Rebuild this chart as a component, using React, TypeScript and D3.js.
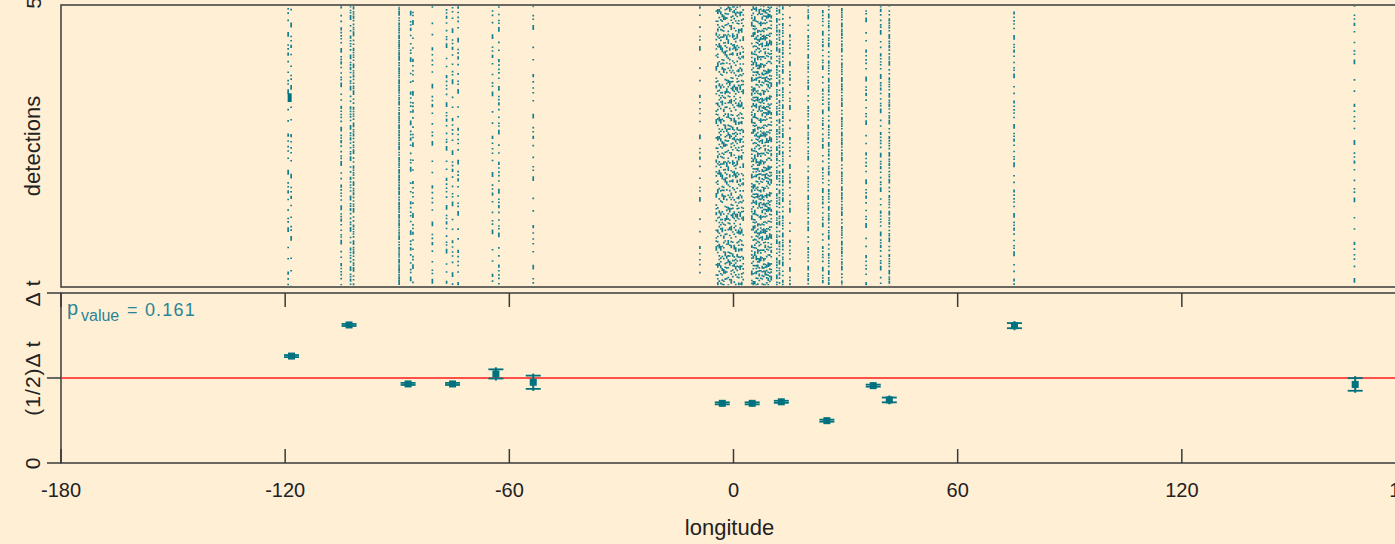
import React, { useEffect, useRef } from 'react';
import * as d3 from 'd3';

// x axis
const xTicks = [-180, -120, -60, 0, 60, 120, 180];
const xLabel = 'longitude';

// bottom panel y axis
const yTickValues = [0, 0.5, 1];
const yTickLabels = ['0', '(1/2)Δ\u2009t', 'Δ\u2009t'];
const pValue = '0.161';

// estimated half-period points (fraction of Δt) with error half-widths
const pointLon = [-118.3, -102.9, -87.1, -75.2, -63.6, -53.6, -3.0, 5.0, 12.8, 25.0, 37.4, 41.7, 75.2, 166.4];
const pointVal = [0.629, 0.812, 0.465, 0.465, 0.524, 0.475, 0.351, 0.351, 0.36, 0.249, 0.455, 0.371, 0.808, 0.462];
const pointErr = [0.006, 0.006, 0.006, 0.006, 0.027, 0.039, 0.006, 0.006, 0.006, 0.006, 0.006, 0.014, 0.015, 0.037];

// top panel: detection columns (longitude, share of the column filled)
const detLon = [-119.2, -118.4, -105.0, -102.5, -101.7, -89.5, -86.4, -85.8, -80.6, -76.8, -75.2, -73.7, -64.5, -62.8, -53.6,
  -9.0, 11.6, 12.3, 13.2, 15.1, 20.0, 23.9, 25.5, 29.0, 35.5, 39.4, 41.7, 75.1, 166.2];
const detDensity = [0.22, 0.2, 0.4, 0.45, 0.55, 0.75, 0.28, 0.25, 0.22, 0.3, 0.25, 0.25, 0.22, 0.3, 0.2,
  0.2, 0.5, 0.45, 0.5, 0.3, 0.45, 0.4, 0.5, 0.6, 0.3, 0.4, 0.55, 0.35, 0.22];
const denseLonA = [-4.6, -4.2, -3.8, -3.4, -3.0, -2.6, -2.2, -1.8, -1.4, -1.0, -0.6, -0.2, 0.2, 0.6, 1.0, 1.4, 1.8, 2.2, 2.6];
const denseLonB = [4.9, 5.3, 5.7, 6.1, 6.5, 6.9, 7.3, 7.7, 8.1, 8.5, 8.9, 9.3, 9.7, 10.1];
const denseA = 0.24;
const denseB = 0.32;
const detExtent = [0.3, 48.4];
const blockLon = -118.8;
const blockRange = [31.9, 33.4];

const bg = '#FFEFD5';
const teal = '#00717f';
const dotTeal = '#137f8e';
const frame = '#3a3a3a';
const font = "'Liberation Sans', Arimo, Arial, sans-serif";

// irregular gap rhythm so neighbouring columns don't line up
const gapRhythm = [0.7, 1.9, 0.5, 1.2, 2.6, 0.6, 1.0, 0.4, 1.6, 0.8, 2.1, 0.5, 1.3, 0.9, 0.3, 1.7];
const dashRhythm = [1.6, 1.6, 3.2, 1.6, 1.6, 4.8, 1.6, 1.6];

const Chart = () => {
  const svgRef = useRef<SVGSVGElement>(null);

  useEffect(() => {
    const svg = d3.select(svgRef.current);
    const width = 1395;
    const height = 544;
    svg.selectAll('*').remove();

    const left = 61, right = 1406;
    const top0 = 5, top1 = 287, bot0 = 293, bot1 = 463;

    const x = d3.scaleLinear().domain([-180, 180]).range([left, right]);
    const yTop = d3.scaleLinear().domain([0, 50]).range([top1, -3]);
    const yBot = d3.scaleLinear().domain([0, 1]).range([bot1, bot0]);

    svg.append('rect').attr('width', width).attr('height', height).attr('fill', bg);

    svg.append('clipPath').attr('id', 'topclip')
      .append('rect').attr('x', left).attr('y', top0).attr('width', right - left).attr('height', top1 - top0);

    // detection columns
    const columns = [
      ...detLon.map((lon, i) => ({ lon, d: detDensity[i] })),
      ...denseLonA.map(lon => ({ lon, d: denseA })),
      ...denseLonB.map(lon => ({ lon, d: denseB })),
    ];
    const dash = (d: number, i: number) => {
      const g = Math.max(0.4, 1.6 / d - 1.6);
      const parts: number[] = [];
      const n = gapRhythm.length;
      for (let k = 0; k < n; k++) {
        parts.push(dashRhythm[(k + i * 3) % dashRhythm.length]);
        parts.push(g * gapRhythm[(k * 5 + i * 7) % n]);
      }
      return parts.map(v => v.toFixed(2)).join(' ');
    };
    const gTop = svg.append('g').attr('clip-path', 'url(#topclip)');
    gTop.selectAll('line.det')
      .data(columns)
      .enter()
      .append('line')
      .attr('class', 'det')
      .attr('x1', c => x(c.lon))
      .attr('x2', c => x(c.lon))
      .attr('y1', yTop(detExtent[0]))
      .attr('y2', yTop(detExtent[1]))
      .attr('stroke', dotTeal)
      .attr('stroke-width', 1.7)
      .attr('stroke-dasharray', (c, i) => dash(c.d, i))
      .attr('stroke-dashoffset', (c, i) => (i * i * 17.3 + i * 41) % 120);

    gTop.append('rect')
      .attr('x', x(blockLon) - 2)
      .attr('y', yTop(blockRange[1]))
      .attr('width', 4)
      .attr('height', yTop(blockRange[0]) - yTop(blockRange[1]))
      .attr('fill', teal);

    // frames
    svg.append('rect')
      .attr('x', left).attr('y', top0).attr('width', right - left).attr('height', top1 - top0)
      .attr('fill', 'none').attr('stroke', frame).attr('stroke-width', 1.5);
    svg.append('rect')
      .attr('x', left).attr('y', bot0).attr('width', right - left).attr('height', bot1 - bot0)
      .attr('fill', 'none').attr('stroke', frame).attr('stroke-width', 1.5);

    // top panel y axis
    svg.append('line').attr('x1', left - 14).attr('x2', left).attr('y1', yTop(50)).attr('y2', yTop(50))
      .attr('stroke', frame).attr('stroke-width', 1.5);
    svg.append('text')
      .attr('transform', `translate(41,${yTop(50)}) rotate(-90)`)
      .attr('text-anchor', 'middle')
      .attr('font-family', font).attr('font-size', 21).attr('fill', '#222')
      .text('50');
    svg.append('text')
      .attr('transform', `translate(40,${(top0 + top1) / 2}) rotate(-90)`)
      .attr('text-anchor', 'middle')
      .attr('font-family', font).attr('font-size', 22).attr('fill', '#222')
      .text('detections');

    // bottom panel x ticks (inside, bottom and top)
    xTicks.forEach(t => {
      svg.append('line').attr('x1', x(t)).attr('x2', x(t)).attr('y1', bot1).attr('y2', bot1 - 14)
        .attr('stroke', frame).attr('stroke-width', 1.5);
      svg.append('line').attr('x1', x(t)).attr('x2', x(t)).attr('y1', bot0).attr('y2', bot0 + 14)
        .attr('stroke', frame).attr('stroke-width', 1.5);
      svg.append('text')
        .attr('x', x(t)).attr('y', 497)
        .attr('text-anchor', 'middle')
        .attr('font-family', font).attr('font-size', 20).attr('fill', '#222')
        .text(String(t));
    });
    svg.append('text')
      .attr('x', x(0) - 4).attr('y', 535)
      .attr('text-anchor', 'middle')
      .attr('font-family', font).attr('font-size', 22).attr('fill', '#222')
      .text(xLabel);

    // bottom panel y axis
    yTickValues.forEach((v, i) => {
      svg.append('line').attr('x1', left - 14).attr('x2', left).attr('y1', yBot(v)).attr('y2', yBot(v))
        .attr('stroke', frame).attr('stroke-width', 1.5);
      svg.append('text')
        .attr('transform', `translate(40,${yBot(v)}) rotate(-90)`)
        .attr('text-anchor', 'middle')
        .attr('font-family', font).attr('font-size', 21).attr('fill', '#222')
        .attr('letter-spacing', 1)
        .text(yTickLabels[i]);
    });

    // reference line at half period
    svg.append('line')
      .attr('x1', left).attr('x2', right).attr('y1', yBot(0.5)).attr('y2', yBot(0.5))
      .attr('stroke', '#ff1a1a').attr('stroke-width', 1.6);

    // p value
    const pt = svg.append('g').attr('font-family', font).attr('fill', '#2a8497');
    pt.append('text').attr('x', 67).attr('y', 315).attr('font-size', 20).text('p');
    pt.append('text').attr('x', 81).attr('y', 321).attr('font-size', 16).text('value');
    pt.append('text').attr('x', 127).attr('y', 316).attr('font-size', 18).attr('letter-spacing', 1.2)
      .text('= ' + pValue);

    // points with error bars
    const pts = pointLon.map((lon, i) => ({ lon, v: pointVal[i], e: pointErr[i] }));
    const gp = svg.append('g').attr('stroke', teal).attr('fill', teal);
    const cap = 7.5;
    gp.selectAll('line.bar').data(pts).enter().append('line')
      .attr('x1', d => x(d.lon)).attr('x2', d => x(d.lon))
      .attr('y1', d => yBot(d.v + d.e) - 2).attr('y2', d => yBot(d.v - d.e) + 2)
      .attr('stroke-width', 2);
    gp.selectAll('line.capHi').data(pts).enter().append('line')
      .attr('x1', d => x(d.lon) - cap).attr('x2', d => x(d.lon) + cap)
      .attr('y1', d => yBot(d.v + d.e)).attr('y2', d => yBot(d.v + d.e))
      .attr('stroke-width', 1.8);
    gp.selectAll('line.capLo').data(pts).enter().append('line')
      .attr('x1', d => x(d.lon) - cap).attr('x2', d => x(d.lon) + cap)
      .attr('y1', d => yBot(d.v - d.e)).attr('y2', d => yBot(d.v - d.e))
      .attr('stroke-width', 1.8);
    gp.selectAll('rect.pt').data(pts).enter().append('rect')
      .attr('x', d => x(d.lon) - 3.5).attr('y', d => yBot(d.v) - 3.5)
      .attr('width', 7).attr('height', 7)
      .attr('stroke', 'none');
  }, []);

  return (
    <svg ref={svgRef} width={1395} height={544} style={{ display: 'block' }}></svg>
  );
};

const App = () => {
  return (
    <div style={{ position: 'absolute', left: 0, top: 0, width: 1395, height: 544, overflow: 'hidden' }}>
      <Chart />
    </div>
  );
};

export default App;
